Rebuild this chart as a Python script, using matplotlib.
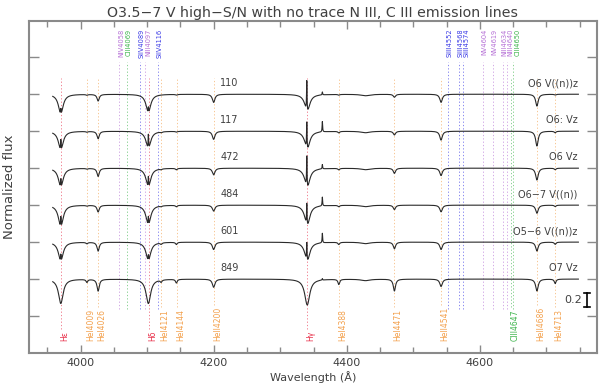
import numpy as np
import matplotlib
matplotlib.use('Agg')
import matplotlib.pyplot as plt

# Stars (top to bottom)
star_ids = ['110', '117', '472', '484', '601', '849']
sp_types = ['O6 V((n))z', 'O6: Vz', 'O6 Vz', 'O6\u22127 V((n))', 'O5\u22126 V((n))z', 'O7 Vz']
offsets = [2.5, 2.0, 1.5, 1.0, 0.5, 0.0]

# Absorption lines seen in the spectra (centre, half width) and depth per star
line_wave = [3970.1, 4009.3, 4026.2, 4101.7, 4120.8, 4143.8, 4199.8,
             4340.5, 4387.9, 4428.0, 4471.5, 4541.6, 4685.7, 4713.1]
line_width = [4.2, 1.5, 2.0, 4.2, 1.5, 1.5, 2.3,
              4.5, 1.5, 8.0, 2.0, 2.3, 2.3, 1.5]
depth_110 = [0.27, 0.01, 0.09, 0.25, 0.00, 0.01, 0.11, 0.24, 0.01, 0.02, 0.04, 0.11, 0.16, 0.01]
depth_117 = [0.26, 0.01, 0.10, 0.24, 0.01, 0.01, 0.11, 0.25, 0.02, 0.02, 0.05, 0.12, 0.20, 0.02]
depth_472 = [0.26, 0.01, 0.11, 0.26, 0.01, 0.02, 0.09, 0.27, 0.02, 0.02, 0.07, 0.10, 0.16, 0.02]
depth_484 = [0.30, 0.01, 0.09, 0.27, 0.01, 0.02, 0.08, 0.28, 0.02, 0.02, 0.06, 0.09, 0.11, 0.02]
depth_601 = [0.26, 0.02, 0.12, 0.25, 0.02, 0.03, 0.10, 0.26, 0.03, 0.02, 0.09, 0.10, 0.12, 0.03]
depth_849 = [0.33, 0.04, 0.16, 0.33, 0.03, 0.05, 0.11, 0.35, 0.07, 0.02, 0.16, 0.10, 0.16, 0.06]

# Narrow nebular emission (Hε, Hδ, Hγ, [O III] 4363)
neb_wave = [3970.1, 4101.7, 4339.8, 4363.2]
neb_110 = [0.08, 0.08, 0.42, 0.04]
neb_117 = [0.15, 0.20, 0.37, 0.14]
neb_472 = [0.12, 0.15, 0.43, 0.06]
neb_484 = [0.15, 0.12, 0.30, 0.12]
neb_601 = [0.10, 0.08, 0.25, 0.13]
neb_849 = [0.00, 0.00, 0.00, 0.02]

depths = [depth_110, depth_117, depth_472, depth_484, depth_601, depth_849]
nebs = [neb_110, neb_117, neb_472, neb_484, neb_601, neb_849]

# Line identifications below the spectra
low_labels = ['H\u03b5', 'HeI4009', 'HeI4026', 'H\u03b4', 'HeI4121', 'HeI4144', 'HeII4200',
              'H\u03b3', 'HeI4388', 'HeI4471', 'HeII4541', 'CIII4647', 'HeII4686', 'HeI4713']
low_wave = [3970, 4009, 4026, 4102, 4121, 4144, 4200,
            4340, 4388, 4471, 4541, 4647, 4686, 4713]
low_kind = ['H', 'He', 'He', 'H', 'He', 'He', 'He',
            'H', 'He', 'He', 'He', 'C', 'He', 'He']

# Line identifications above the spectra
top_labels = ['NIV4058', 'CIII4069', 'SiIV4089', 'NIII4097', 'SiIV4116',
              'SiIII4552', 'SiIII4568', 'SiIII4574', 'NV4604', 'NV4619',
              'NIII4634', 'NIII4640', 'CIII4650']
top_wave = [4058, 4069, 4089, 4097, 4116, 4552, 4568, 4574, 4604, 4619, 4634, 4640, 4650]
top_kind = ['N', 'C', 'Si', 'N', 'Si', 'Si', 'Si', 'Si', 'N', 'N', 'N', 'N', 'C']

colors = {'H': '#e8304a', 'He': '#f3a04c', 'C': '#3cb44b', 'N': '#b56fd6', 'Si': '#3a3ae6'}
frame_col = '#8a8a8a'
text_col = '#404040'

fig = plt.figure(figsize=(6, 3.89), dpi=100)
ax = fig.add_axes([0.048, 0.0925, 0.947, 0.8535])
ax.set_xlim(3922, 4776)
ax.set_ylim(0.0, 4.49)

# spectra
wl = np.linspace(3958, 4748, 8000)
for sid, spt, off, dep, neb in zip(star_ids, sp_types, offsets, depths, nebs):
    flux = np.ones_like(wl)
    for w0, hw, d in zip(line_wave, line_width, dep):
        flux -= d / (1 + ((wl - w0) / hw) ** 2)
    for w0, e in zip(neb_wave, neb):
        flux += e / (1 + ((wl - w0) / 0.45) ** 2)
    ax.plot(wl, flux + off, color='#2a2a2a', lw=0.8, zorder=3)
    ax.text(4210, off + 1.08, sid, fontsize=7, color=text_col, ha='left', va='bottom')
    ax.text(4747, off + 1.08, spt, fontsize=7, color=text_col, ha='right', va='bottom')

dash = (0, (1.5, 2.5))

# top identifications: spread labels a little so they do not collide
label_x = []
for w in top_wave:
    x = w + 3
    if label_x and x - label_x[-1] < 9.5:
        x = label_x[-1] + 9.5
    label_x.append(x)
for lab, w, x, k in zip(top_labels, top_wave, label_x, top_kind):
    ax.plot([w, w], [0.6, 3.93], color=colors[k], lw=0.6, ls=dash, alpha=0.7, zorder=1)
    ax.text(x, 4.39, lab, rotation=90, fontsize=4.8, color=colors[k],
            ha='center', va='top')

# bottom identifications
low_texts = []
low_lines = []
for lab, w, k in zip(low_labels, low_wave, low_kind):
    ln, = ax.plot([w, w], [0.16, 3.72], color=colors[k], lw=0.6, ls=dash, alpha=0.7, zorder=1)
    t = ax.text(w - 1, 0.16, lab, rotation=90, fontsize=5.5, color=colors[k],
                ha='left', va='bottom')
    low_texts.append(t)
    low_lines.append(ln)

# scale bar
ax.plot([4761, 4761], [0.616, 0.816], color='black', lw=1.2)
ax.plot([4756, 4766], [0.616, 0.616], color='black', lw=1.2)
ax.plot([4756, 4766], [0.816, 0.816], color='black', lw=1.2)
ax.text(4753, 0.716, '0.2', fontsize=8, color=text_col, ha='right', va='center')

# axes styling
ax.set_xticks([4000, 4200, 4400, 4600])
ax.set_xticks(np.arange(3950, 4776, 50), minor=True)
ax.set_yticks(np.arange(0.5, 4.01, 0.5))
ax.set_yticklabels([])
ax.tick_params(axis='both', which='both', direction='in', top=True, right=True,
               color=frame_col, width=1.0, labelsize=8, labelcolor=text_col)
ax.tick_params(axis='x', which='major', length=6)
ax.tick_params(axis='x', which='minor', length=4)
ax.tick_params(axis='y', which='major', length=7)
for s in ax.spines.values():
    s.set_color(frame_col)
    s.set_linewidth(1.5)

ax.set_xlabel('Wavelength (\u00c5)', fontsize=8, color=text_col, labelpad=2)
ax.set_ylabel('Normalized flux', fontsize=9.5, color=text_col, labelpad=6)
ax.set_title('O3.5\u22127 V high\u2212S/N with no trace N III, C III emission lines',
             fontsize=10.2, color=text_col, pad=3)

# let bottom marker lines stop at their labels
fig.canvas.draw()
renderer = fig.canvas.get_renderer()
inv = ax.transData.inverted()
for t, ln in zip(low_texts, low_lines):
    bb = t.get_window_extent(renderer)
    ytop = inv.transform((bb.x0, bb.y1))[1]
    ln.set_ydata([ytop + 0.03, 3.72])

fig.savefig('out.png', dpi=100)
